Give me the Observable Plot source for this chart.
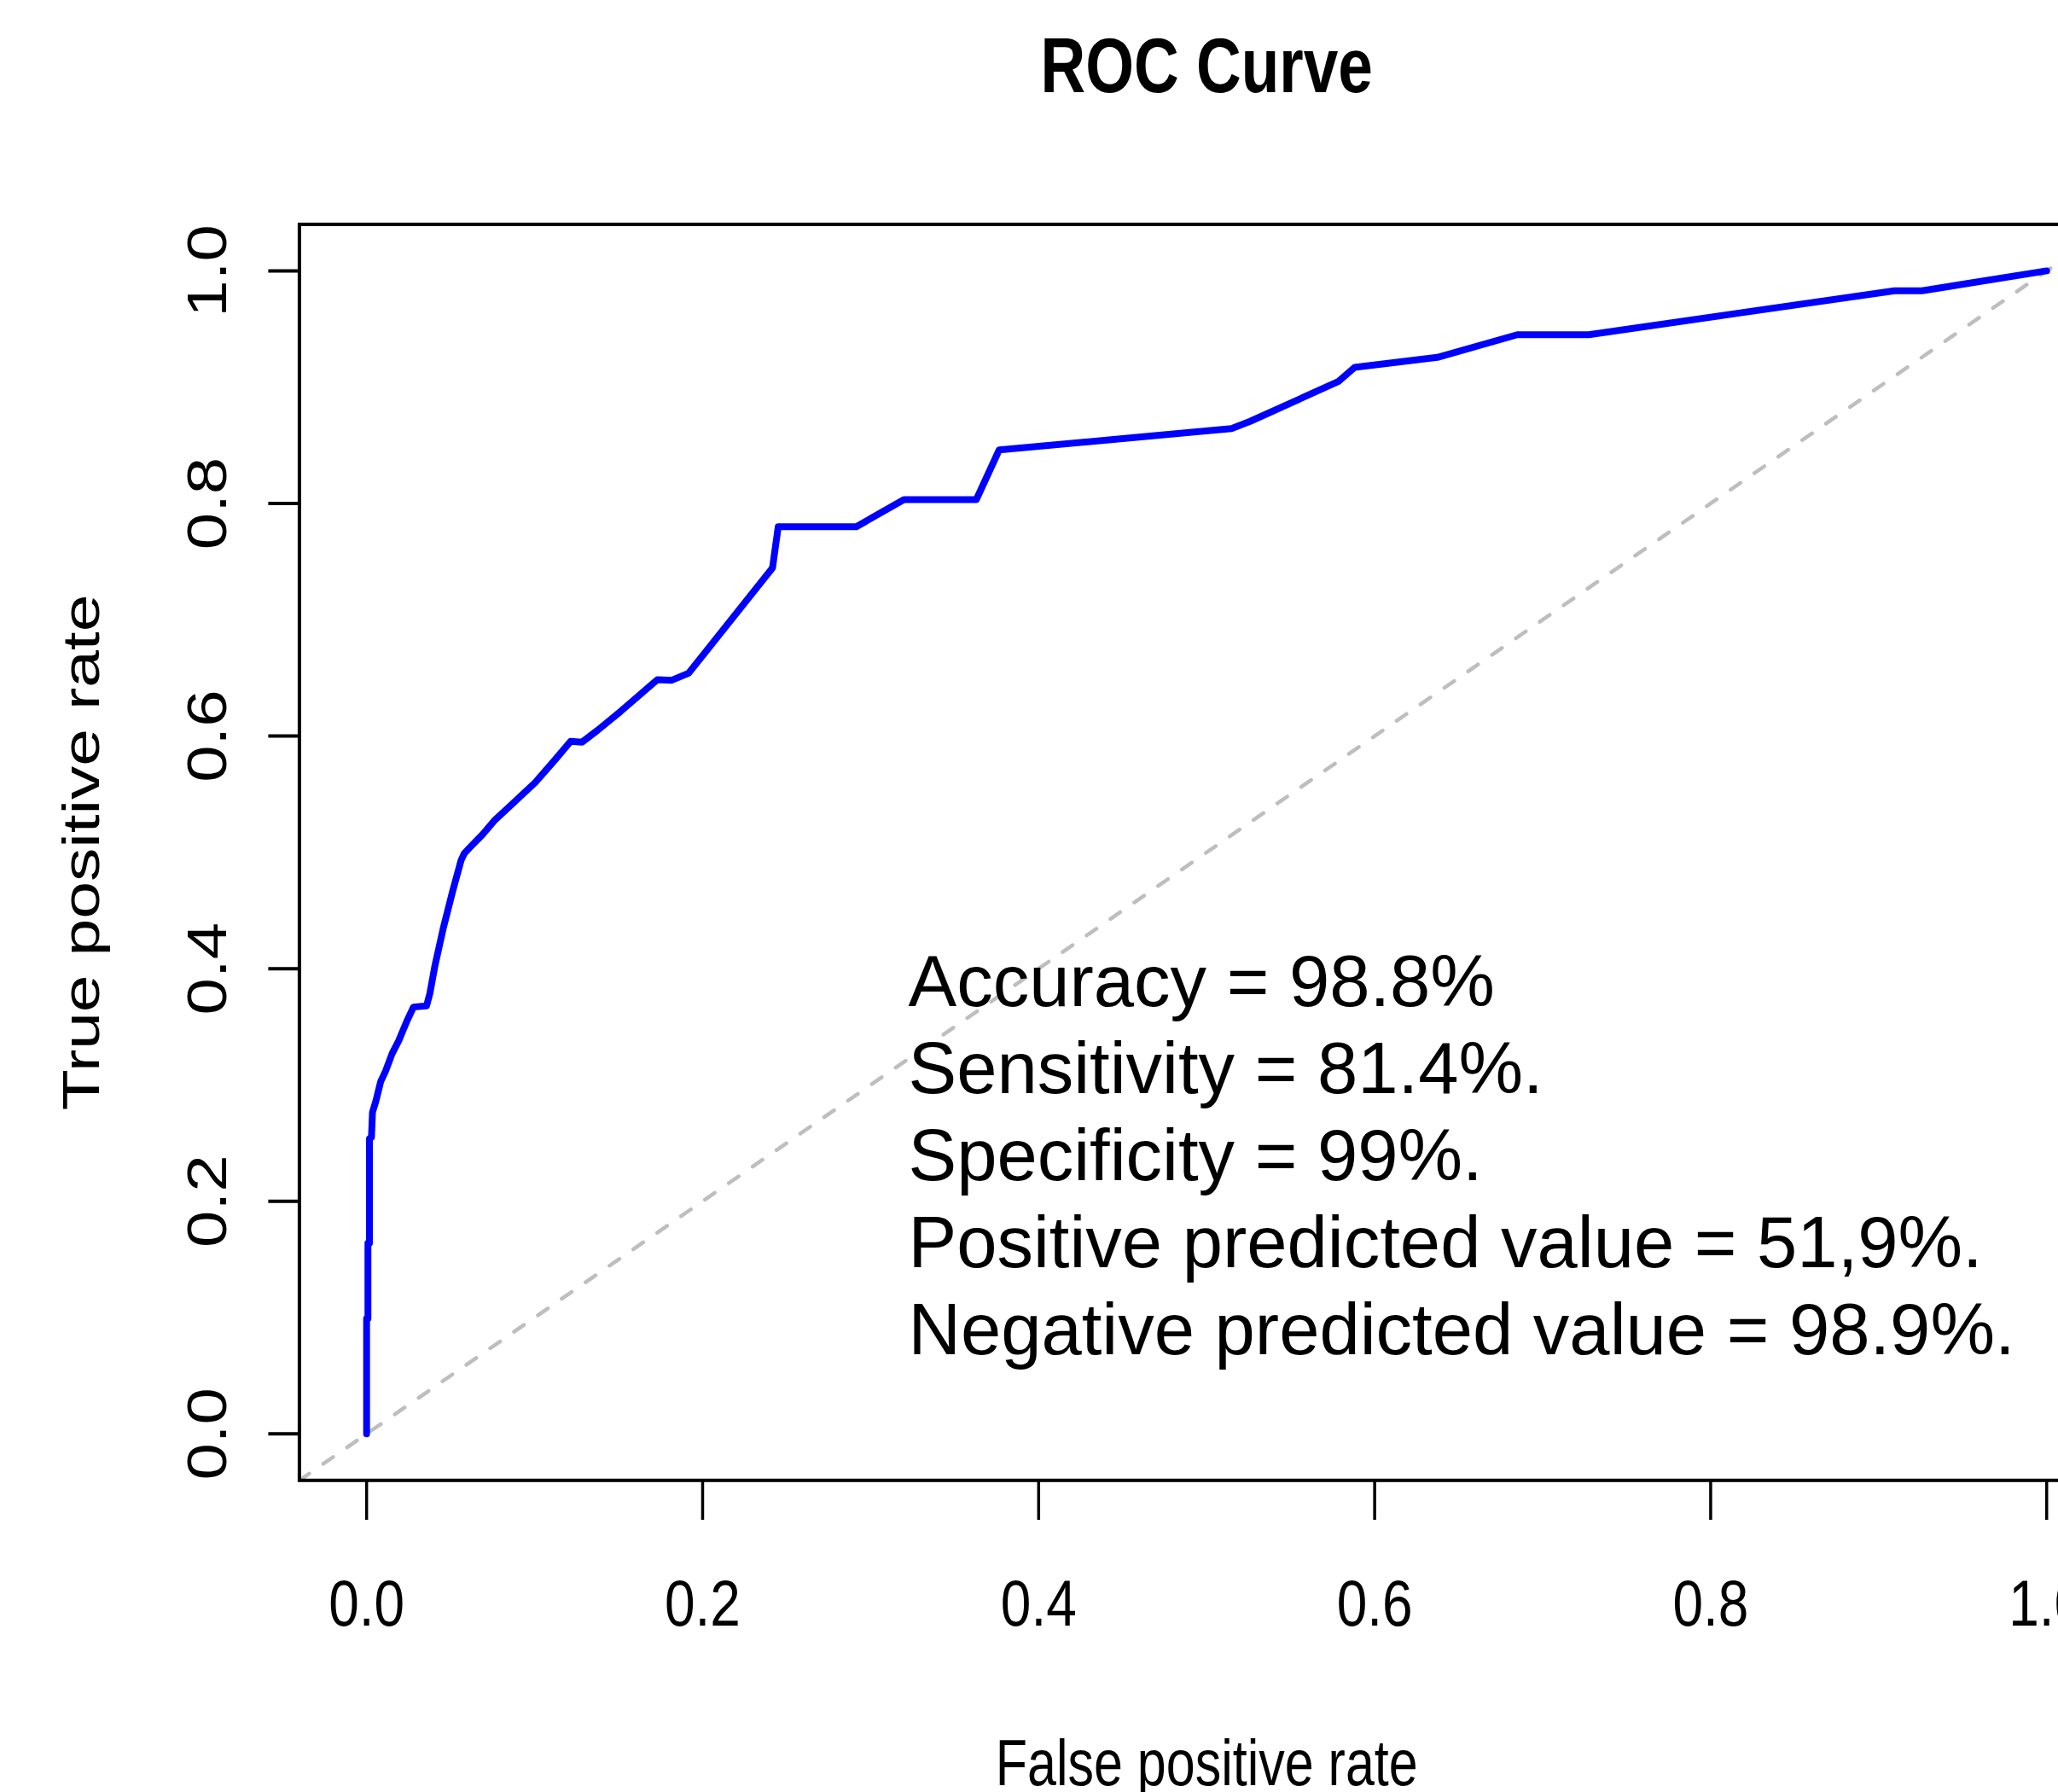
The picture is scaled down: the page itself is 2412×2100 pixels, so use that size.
<!DOCTYPE html>
<html>
<head>
<meta charset="utf-8">
<script src="https://cdn.jsdelivr.net/npm/d3@7"></script>
<script src="https://cdn.jsdelivr.net/npm/@observablehq/plot@0.6"></script>
<style>
html, body { margin: 0; padding: 0; background: #ffffff; }
#chart svg { display: block; overflow: hidden; }
</style>
</head>
<body>
<div id="chart"></div>
<script>
// ROC curve
const fpr = [0, 0, 0.0008, 0.0008, 0.0017, 0.0017, 0.0029, 0.0035, 0.0055, 0.0084, 0.0113, 0.0152, 0.0191, 0.024, 0.0279, 0.0357, 0.0377, 0.0406, 0.0455, 0.0513, 0.0562, 0.0581, 0.062, 0.0688, 0.0765, 0.0867, 0.1003, 0.1121, 0.1214, 0.1282, 0.1375, 0.1511, 0.1629, 0.1731, 0.1816, 0.1917, 0.2416, 0.2450, 0.2915, 0.3198, 0.3629, 0.3765, 0.5148, 0.5259, 0.5783, 0.5881, 0.6373, 0.6849, 0.7275, 0.9094, 0.9258, 1.0];
const tpr = [0, 0.099, 0.099, 0.164, 0.164, 0.254, 0.255, 0.2765, 0.286, 0.303, 0.312, 0.327, 0.338, 0.355, 0.367, 0.368, 0.379, 0.402, 0.434, 0.467, 0.493, 0.499, 0.505, 0.515, 0.528, 0.5416, 0.560, 0.5795, 0.5954, 0.5947, 0.605, 0.6211, 0.6358, 0.6485, 0.648, 0.6541, 0.7446, 0.780, 0.780, 0.8033, 0.8033, 0.846, 0.8644, 0.8706, 0.9048, 0.917, 0.9256, 0.9451, 0.9451, 0.9829, 0.9829, 1.0];
const diagonal = [-0.04, 1.04];
const xTicks = [0, 0.2, 0.4, 0.6, 0.8, 1.0];
const yTicks = [0, 0.2, 0.4, 0.6, 0.8, 1.0];
const tickLabels = ["0.0", "0.2", "0.4", "0.6", "0.8", "1.0"];
const titleText = "ROC Curve";
const xLabel = "False positive rate";
const yLabel = "True positive rate";
const statsLines = [
  "Accuracy = 98.8%",
  "Sensitivity = 81.4%.",
  "Specificity = 99%.",
  "Positive predicted value = 51,9%.",
  "Negative predicted value = 98.9%."
];
const statsAnchor = {x: 0.3224, y: 0.0681};

const roc = fpr.map((x, i) => ({fpr: x, tpr: tpr[i]}));

const W = 2412, H = 2100;
const frameLeft = 350.4, frameRight = 2477, frameTop = 262.4, frameBottom = 1734.3;
const fmt = d => tickLabels[xTicks.findIndex(t => Math.abs(t - d) < 1e-9)];

const chart = Plot.plot({
  width: W,
  height: H,
  marginLeft: frameLeft,
  marginRight: W - frameRight,
  marginTop: frameTop,
  marginBottom: H - frameBottom,
  x: {domain: [-0.04, 1.04], label: null},
  y: {domain: [-0.04, 1.04], label: null},
  style: {fontFamily: "'Liberation Sans', Arial, sans-serif", background: "#ffffff", color: "#000000", overflow: "hidden"},
  marks: [
    Plot.line(diagonal, {x: d => d, y: d => d, stroke: "#bebebe", strokeWidth: 4.5, strokeDasharray: "14,20", clip: true}),
    Plot.line(roc, {x: "fpr", y: "tpr", stroke: "#0000ff", strokeWidth: 8, strokeLinejoin: "round", strokeLinecap: "round"}),
    Plot.frame({stroke: "#000000", strokeWidth: 4}),
    Plot.axisX({ticks: xTicks, tickFormat: fmt, tickSize: 46.7, tickPadding: 69, fontSize: 64, strokeWidth: 3.5, label: null}),
    Plot.axisY({ticks: yTicks, tickFormat: fmt, tickSize: 36, tickPadding: 50.4, tickRotate: -90, fontSize: 64, strokeWidth: 4, label: null}),
    Plot.text([titleText], {text: d => d, frameAnchor: "top", dy: -(frameTop - 107.3), lineAnchor: "bottom", textAnchor: "middle", fontSize: 73, fontWeight: "bold"}),
    Plot.text([xLabel], {text: d => d, frameAnchor: "bottom", dy: 2091.7 - frameBottom, lineAnchor: "bottom", textAnchor: "middle", fontSize: 61}),
    Plot.text([yLabel], {text: d => d, frameAnchor: "left", dx: -(frameLeft - 115), rotate: -90, lineAnchor: "bottom", textAnchor: "middle", fontSize: 60.5}),
    Plot.text([statsLines.join("\n")], {text: d => d, x: statsAnchor.x, y: statsAnchor.y, textAnchor: "start", lineAnchor: "bottom", lineHeight: 1.2, fontSize: 85})
  ]
});

document.getElementById("chart").append(chart);
const svgEl = chart.tagName && chart.tagName.toLowerCase() === "svg" ? chart : chart.querySelector("svg");

// The R graphic's text is drawn slightly taller than wide; reproduce that stretch.
svgEl.querySelectorAll("text").forEach(t => {
  const s = t.textContent;
  const tr = t.getAttribute("transform") || "";
  const parentLabel = (t.parentNode && t.parentNode.getAttribute && t.parentNode.getAttribute("aria-label")) || "";
  let sc = null;
  if (s === titleText) sc = "scale(1,1.24)";
  else if (s === xLabel) sc = "scale(1,1.26)";
  else if (s === yLabel) sc = "scale(1.30,1)";
  else if (tickLabels.includes(s)) {
    const rotated = tr.includes("rotate") || parentLabel.includes("y-axis");
    sc = rotated ? "scale(1.22,1)" : "scale(1,1.2)";
  }
  if (sc) t.setAttribute("transform", (tr + " " + sc).trim());
});
</script>
</body>
</html>
